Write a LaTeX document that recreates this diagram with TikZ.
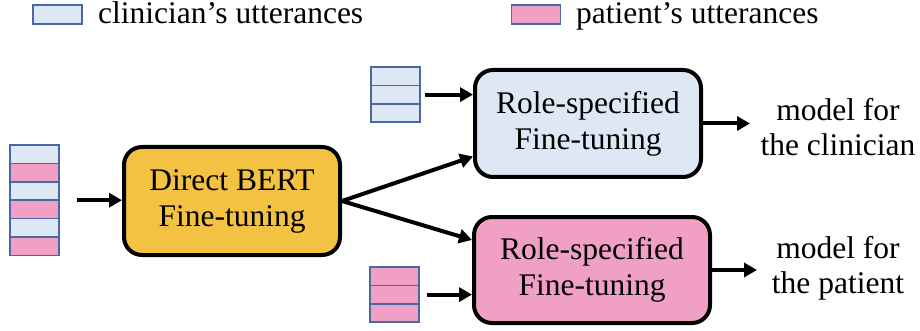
\documentclass[tikz,border=0pt]{standalone}
\usepackage{fontspec}
\setmainfont{Liberation Serif}
\usetikzlibrary{arrows.meta,calc}

\definecolor{clin}{HTML}{DEE8F4}
\definecolor{pat}{HTML}{F0A0C4}
\definecolor{gold}{HTML}{F4C242}
\definecolor{cellline}{HTML}{4A68A6}

\tikzset{
  cell/.style={draw=cellline, line width=1.5pt, minimum width=49pt, minimum height=18.4pt,
               inner sep=0pt, outer sep=0pt},
  ccell/.style={cell, fill=clin},
  pcell/.style={cell, fill=pat},
  stage/.style={draw=black, line width=4pt, rounded corners=18pt, align=center,
                inner sep=0pt, font=\fontsize{31.5}{36}\selectfont},
  label/.style={font=\fontsize{31.5}{35}\selectfont, inner sep=0pt, align=center},
  flow/.style={line width=4pt, -{Triangle[length=13pt,width=14pt]}},
}

\begin{document}
\begin{tikzpicture}[x=1pt, y=-1pt]
  \useasboundingbox (0,0) rectangle (920,331);

  % legend
  \node[ccell, minimum height=19pt] (legc) at (57.5,14.5) {};
  \node[label, anchor=base west] (legctext) at (98,24) {clinician’s utterances};
  \node[pcell, minimum height=19pt] (legp) at (536,14.5) {};
  \node[label, anchor=base west] (legptext) at (576,24) {patient’s utterances};

  % mixed dialogue stack
  \node[ccell] (m1) at (34.5,154.2) {};
  \node[pcell, anchor=north] (m2) at (m1.south) {};
  \node[ccell, anchor=north] (m3) at (m2.south) {};
  \node[pcell, anchor=north] (m4) at (m3.south) {};
  \node[ccell, anchor=north] (m5) at (m4.south) {};
  \node[pcell, anchor=north] (m6) at (m5.south) {};

  % clinician-only stack
  \node[ccell] (a1) at (395.5,76.2) {};
  \node[ccell, anchor=north] (a2) at (a1.south) {};
  \node[ccell, anchor=north] (a3) at (a2.south) {};

  % patient-only stack
  \node[pcell] (b1) at (394.5,276.2) {};
  \node[pcell, anchor=north] (b2) at (b1.south) {};
  \node[pcell, anchor=north] (b3) at (b2.south) {};

  % fine-tuning stages
  \node[stage, fill=gold, minimum width=216pt, minimum height=108pt] (direct)
       at (232,201) {Direct BERT\\Fine-tuning};
  \node[stage, fill=clin, minimum width=226pt, minimum height=107pt] (roleC)
       at (588,123.5) {Role-specified\\Fine-tuning};
  \node[stage, fill=pat, minimum width=236pt, minimum height=106pt] (roleP)
       at (592,270) {Role-specified\\Fine-tuning};

  % outputs
  \node[label] (outC) at (838,127) {model for\\the clinician};
  \node[label] (outP) at (838,268) {model for\\the patient};

  % connectors
  \draw[flow, shorten <=18pt] (m4.north east) -- (m4.north east -| direct.west);
  \draw[flow, shorten <=5pt] (a2.east) -- (a2.east -| roleC.west);
  \draw[flow, shorten <=8pt] (b2.east) -- (b2.east -| roleP.west);
  \draw[flow] (direct.east) -- ($(roleC.west)+(0,33)$);
  \draw[flow] (direct.east) -- ($(roleP.west)+(0,-30)$);
  \draw[flow] (roleC.east) -- ++(47,0) coordinate (endC);
  \draw[flow] (roleP.east) -- ++(45,0) coordinate (endP);
\end{tikzpicture}
\end{document}
